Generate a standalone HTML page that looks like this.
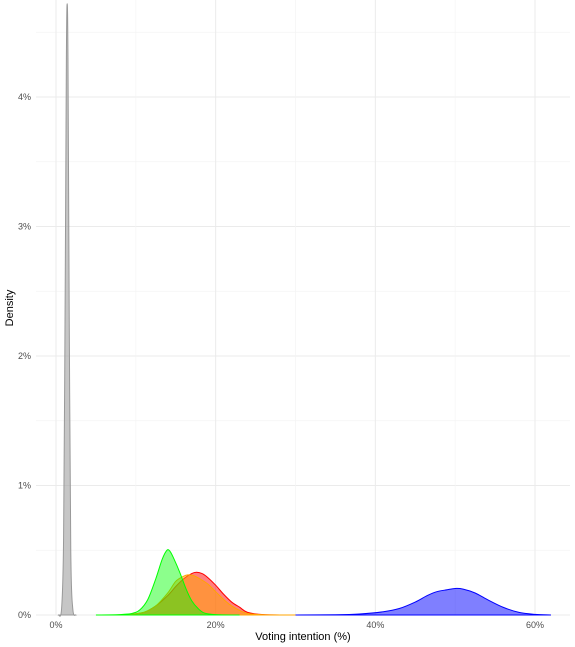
<!DOCTYPE html>
<html><head><meta charset="utf-8"><style>
body{margin:0;background:#fff;font-family:"Liberation Sans",sans-serif}
svg{display:block}
</style></head><body>
<svg id="chart" width="575" height="647" xmlns="http://www.w3.org/2000/svg">
<g id="grid"></g>
<g id="series"></g>
<g id="axes"></g>
<text x="303" y="640" font-size="11" text-anchor="middle" fill="#000">Voting intention (%)</text>
<text x="0" y="0" font-size="11" text-anchor="middle" fill="#000" transform="translate(13,308) rotate(-90)">Density</text>
</svg>
<script>
const xTicks=[0,20,40,60];
const xTickLabels=["0%","20%","40%","60%"];
const yTicks=[0,1,2,3,4];
const yTickLabels=["0%","1%","2%","3%","4%"];
const grayX=[0.3,0.7,0.95,1.15,1.3,1.4,1.5,1.65,1.85,2.1,2.5];
const grayY=[0,0.05,0.6,2.5,4.3,4.72,4.3,2.4,0.5,0.05,0];
const blueX=[30,35,38,41,43,45,46.5,47.7,49,50,51,52.5,54,56,58,60,62];
const blueY=[0,0.002,0.008,0.025,0.05,0.1,0.15,0.18,0.195,0.205,0.2,0.17,0.12,0.06,0.02,0.005,0];
const redX=[6,9,11,12.5,14,15,16,17,17.6,18.3,19,20,21,22,23,24,26,30];
const redY=[0,0.003,0.02,0.07,0.15,0.22,0.28,0.32,0.33,0.32,0.29,0.23,0.16,0.1,0.06,0.02,0.003,0];
const orangeX=[6,9,11,12.5,14,15,16,16.5,17.2,18,19,20,21,22,23,24,26,30];
const orangeY=[0,0.003,0.02,0.07,0.17,0.26,0.3,0.31,0.305,0.28,0.24,0.18,0.12,0.07,0.035,0.012,0.002,0];
const greenX=[5,8,9.5,10.5,11.5,12.5,13.3,13.9,14.3,14.8,15.5,16.3,17,17.8,18.6,20,23];
const greenY=[0,0.003,0.012,0.04,0.12,0.28,0.43,0.5,0.49,0.43,0.33,0.2,0.11,0.05,0.015,0.003,0];
const X0=56,XS=(535-56)/60,Y0=615,YS=(615-97)/4;
const sx=v=>X0+v*XS, sy=v=>Y0-v*YS;
const NS="http://www.w3.org/2000/svg";
function mk(tag,attrs,parent){const e=document.createElementNS(NS,tag);for(const k in attrs)e.setAttribute(k,attrs[k]);parent.appendChild(e);return e;}
const grid=document.getElementById('grid'),axes=document.getElementById('axes'),series=document.getElementById('series');
for(let v=0;v<=4.5;v+=0.5){
 const l=mk('line',{x1:36,x2:570,y1:sy(v),y2:sy(v),stroke:v%1===0?'#ebebeb':'#f4f4f4','stroke-width':v%1===0?1:0.7},grid);
 
 
}
for(let v=0;v<=70;v+=10){
 if(sx(v)>570)continue;
 const l=mk('line',{x1:sx(v),x2:sx(v),y1:0,y2:615,stroke:v%20===0?'#ebebeb':'#f4f4f4','stroke-width':v%20===0?1:0.7},grid);
 
 
}
xTicks.forEach((v,i)=>{const t=mk('text',{x:sx(v),y:628,'font-size':9,'text-anchor':'middle',fill:'#4d4d4d'},axes);t.textContent=xTickLabels[i];
 
 });
yTicks.forEach((v,i)=>{const t=mk('text',{x:31,y:sy(v)+3,'font-size':9,'text-anchor':'end',fill:'#4d4d4d'},axes);t.textContent=yTickLabels[i];
 
 });
function path(xs,ys){
 const p=xs.map((x,i)=>[sx(x),sy(ys[i])]);
 let d='M'+p[0][0]+','+p[0][1];
 for(let i=0;i<p.length-1;i++){
  const a=p[Math.max(0,i-1)],b=p[i],c=p[i+1],e=p[Math.min(p.length-1,i+2)];
  const c1=[b[0]+(c[0]-a[0])/6,b[1]+(c[1]-a[1])/6],c2=[c[0]-(e[0]-b[0])/6,c[1]-(e[1]-b[1])/6];
  d+=' C'+c1+' '+c2+' '+c;
 }
 return d;
}
function draw(xs,ys,fill,stroke,name){
 const el=mk('path',{d:path(xs,ys)+' Z',fill:fill,stroke:stroke,'stroke-width':1},series);
 
 
}
draw(grayX,grayY,'rgba(160,160,160,0.6)','#999','density-gray');
draw(blueX,blueY,'rgba(0,0,255,0.5)','#0000ff','density-blue');
draw(redX,redY,'rgba(255,0,0,0.5)','#ff0000','density-red');
draw(orangeX,orangeY,'rgba(255,165,0,0.5)','#ffa500','density-orange');
draw(greenX,greenY,'rgba(0,255,0,0.45)','#00ff00','density-green');
</script>
</body></html>
